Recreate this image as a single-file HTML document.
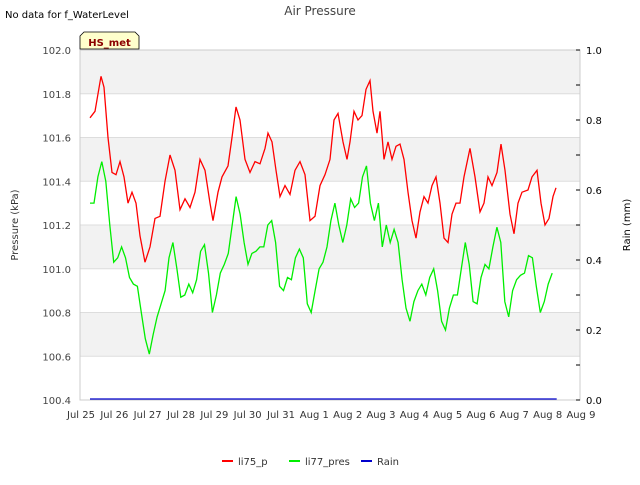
<!DOCTYPE html>
<html><head><meta charset="utf-8"><style>
body{margin:0;background:#fff;}
svg{font-family:"DejaVu Sans","Liberation Sans",sans-serif;}
</style></head><body>
<svg id="chart" width="640" height="480" xmlns="http://www.w3.org/2000/svg">
<rect width="640" height="480" fill="#fff"/>
<text x="320" y="15" text-anchor="middle" font-size="12" fill="#444">Air Pressure</text>
<text x="5" y="18" font-size="10" fill="#000">No data for f_WaterLevel</text>
<g id="bands"></g>
<g id="grid"></g>
<rect x="80" y="50" width="500" height="350" fill="none" stroke="#ccc"/>
<g id="axes"></g>
<g id="series"></g>
<g>
<path d="M80,49 L80,36 L84,32 L135,32 L139,36 L139,49 Z" fill="#ffffcc" stroke="#000" stroke-width="0.8"/>
<text x="109.5" y="46" text-anchor="middle" font-size="10" font-weight="bold" fill="#8b0000">HS_met</text>
</g>
<text transform="translate(18,225) rotate(-90)" text-anchor="middle" font-size="10" fill="#333">Pressure (kPa)</text>
<text transform="translate(630,225) rotate(-90)" text-anchor="middle" font-size="10" fill="#000">Rain (mm)</text>
<g id="legend"></g>
</svg>
<script>
const xTickLabels=["Jul 25","Jul 26","Jul 27","Jul 28","Jul 29","Jul 30","Jul 31","Aug 1","Aug 2","Aug 3","Aug 4","Aug 5","Aug 6","Aug 7","Aug 8","Aug 9"];
const yTicks=[100.4,100.6,100.8,101.0,101.2,101.4,101.6,101.8,102.0];
const y2Ticks=[0,0.1,0.2,0.3,0.4,0.5,0.6,0.7,0.8,0.9,1.0];
const redDays=[0.30,0.45,0.54,0.63,0.72,0.84,0.96,1.08,1.20,1.32,1.44,1.56,1.68,1.80,1.95,2.10,2.25,2.40,2.55,2.70,2.85,3.00,3.15,3.30,3.45,3.60,3.75,3.90,3.99,4.14,4.26,4.44,4.56,4.68,4.80,4.95,5.10,5.25,5.40,5.55,5.64,5.76,5.88,6.00,6.15,6.30,6.45,6.60,6.75,6.90,7.05,7.20,7.35,7.50,7.62,7.74,7.89,8.01,8.10,8.22,8.34,8.46,8.58,8.70,8.79,8.91,9.00,9.12,9.24,9.36,9.48,9.60,9.72,9.84,9.96,10.08,10.20,10.32,10.44,10.56,10.68,10.80,10.92,11.04,11.16,11.28,11.40,11.52,11.70,11.85,12.00,12.12,12.24,12.36,12.51,12.63,12.75,12.90,13.02,13.14,13.26,13.44,13.56,13.71,13.83,13.95,14.07,14.19,14.28];
const redVals=[101.69,101.72,101.8,101.88,101.83,101.6,101.44,101.43,101.49,101.42,101.3,101.35,101.3,101.15,101.03,101.1,101.23,101.24,101.4,101.52,101.45,101.27,101.32,101.28,101.35,101.5,101.45,101.3,101.22,101.35,101.42,101.47,101.6,101.74,101.68,101.5,101.44,101.49,101.48,101.55,101.62,101.58,101.45,101.33,101.38,101.34,101.45,101.49,101.43,101.22,101.24,101.38,101.43,101.5,101.68,101.71,101.58,101.5,101.58,101.72,101.68,101.7,101.82,101.86,101.72,101.62,101.72,101.5,101.58,101.5,101.56,101.57,101.5,101.35,101.22,101.14,101.26,101.33,101.3,101.38,101.42,101.3,101.14,101.12,101.25,101.3,101.3,101.42,101.55,101.42,101.26,101.3,101.42,101.38,101.44,101.57,101.45,101.25,101.16,101.3,101.35,101.36,101.42,101.45,101.3,101.2,101.23,101.33,101.37];
const greenStart=0.30, greenStep=0.1185;
const greenVals=[101.3,101.3,101.42,101.49,101.4,101.2,101.03,101.05,101.1,101.05,100.96,100.93,100.92,100.8,100.68,100.61,100.7,100.78,100.84,100.9,101.05,101.12,101.0,100.87,100.88,100.93,100.89,100.95,101.08,101.11,100.98,100.8,100.88,100.98,101.02,101.07,101.2,101.33,101.25,101.12,101.02,101.07,101.08,101.1,101.1,101.2,101.22,101.12,100.92,100.9,100.96,100.95,101.05,101.09,101.05,100.84,100.8,100.9,101.0,101.03,101.1,101.22,101.3,101.2,101.12,101.2,101.32,101.28,101.3,101.42,101.47,101.3,101.22,101.3,101.1,101.2,101.12,101.18,101.12,100.95,100.82,100.76,100.85,100.9,100.93,100.88,100.96,101.0,100.9,100.76,100.72,100.82,100.88,100.88,101.0,101.12,101.02,100.85,100.84,100.96,101.02,101.0,101.1,101.19,101.12,100.85,100.78,100.9,100.95,100.97,100.98,101.06,101.05,100.92,100.8,100.85,100.93,100.98];
const rainDays=[0.30,14.30];
const rainVals=[0,0];

const NS="http://www.w3.org/2000/svg";
const X0=80,X1=580,Y0=400,Y1=50;
const xs=d=>X0+d/15*(X1-X0);
const ys=p=>Y0-(p-100.4)/1.6*(Y0-Y1);
const ys2=r=>Y0-r*(Y0-Y1);
function mk(tag,attrs,parent){const e=document.createElementNS(NS,tag);for(const k in attrs)e.setAttribute(k,attrs[k]);parent.appendChild(e);return e;}
const bands=document.getElementById('bands'),grid=document.getElementById('grid'),axes=document.getElementById('axes'),series=document.getElementById('series'),legend=document.getElementById('legend');
for(let i=0;i<yTicks.length-1;i++){
  if(i%2===1){const r=mk('rect',{x:X0,y:ys(yTicks[i+1]),width:X1-X0,height:ys(yTicks[i])-ys(yTicks[i+1]),fill:'#f2f2f2'},bands);
  
  }
}
yTicks.forEach(v=>{
  const l=mk('line',{x1:X0,x2:X1,y1:ys(v),y2:ys(v),stroke:'#ddd'},grid);
  
  
  const t=mk('text',{x:71,y:ys(v)+4,'text-anchor':'end','font-size':10,fill:'#444'},axes);t.textContent=v.toFixed(1);
  
  
});
y2Ticks.forEach((v,i)=>{
  const l=mk('line',{x1:X1-4,x2:X1,y1:ys2(v),y2:ys2(v),stroke:'#000'},axes);
  
  
  if(i%2===0){const t=mk('text',{x:586,y:ys2(v)+4,'font-size':10,fill:'#000'},axes);t.textContent=v.toFixed(1);
  
  }
});
xTickLabels.forEach((s,i)=>{
  const t=mk('text',{x:xs(i)+1,y:418,'text-anchor':'middle','font-size':10,fill:'#333'},axes);t.textContent=s;
  
  
});
function line(days,vals,yf,color,name){
  const pts=days.map((d,i)=>xs(d).toFixed(1)+','+yf(vals[i]).toFixed(1)).join(' ');
  const p=mk('polyline',{points:pts,fill:'none',stroke:color,'stroke-width':1.3},series);
  
  
}
line(redDays,redVals,ys,'#ff0000','li75-p-line');
const greenDays=greenVals.map((v,i)=>greenStart+i*greenStep);
line(greenDays,greenVals,ys,'#00ee00','li77-pres-line');
line(rainDays,rainVals,v=>ys2(v)-1,'#0000cc','rain-line');
[['li75_p','#ff0000',222],['li77_pres','#00ee00',289],['Rain','#0000cc',361]].forEach(([lab,c,x])=>{
  const g=mk('g',{},legend);
  
  
  mk('line',{x1:x,x2:x+11,y1:461,y2:461,stroke:c,'stroke-width':2},g);
  const t=mk('text',{x:x+16,y:465,'font-size':10,fill:'#333'},g);t.textContent=lab;
});
</script>
</body></html>
